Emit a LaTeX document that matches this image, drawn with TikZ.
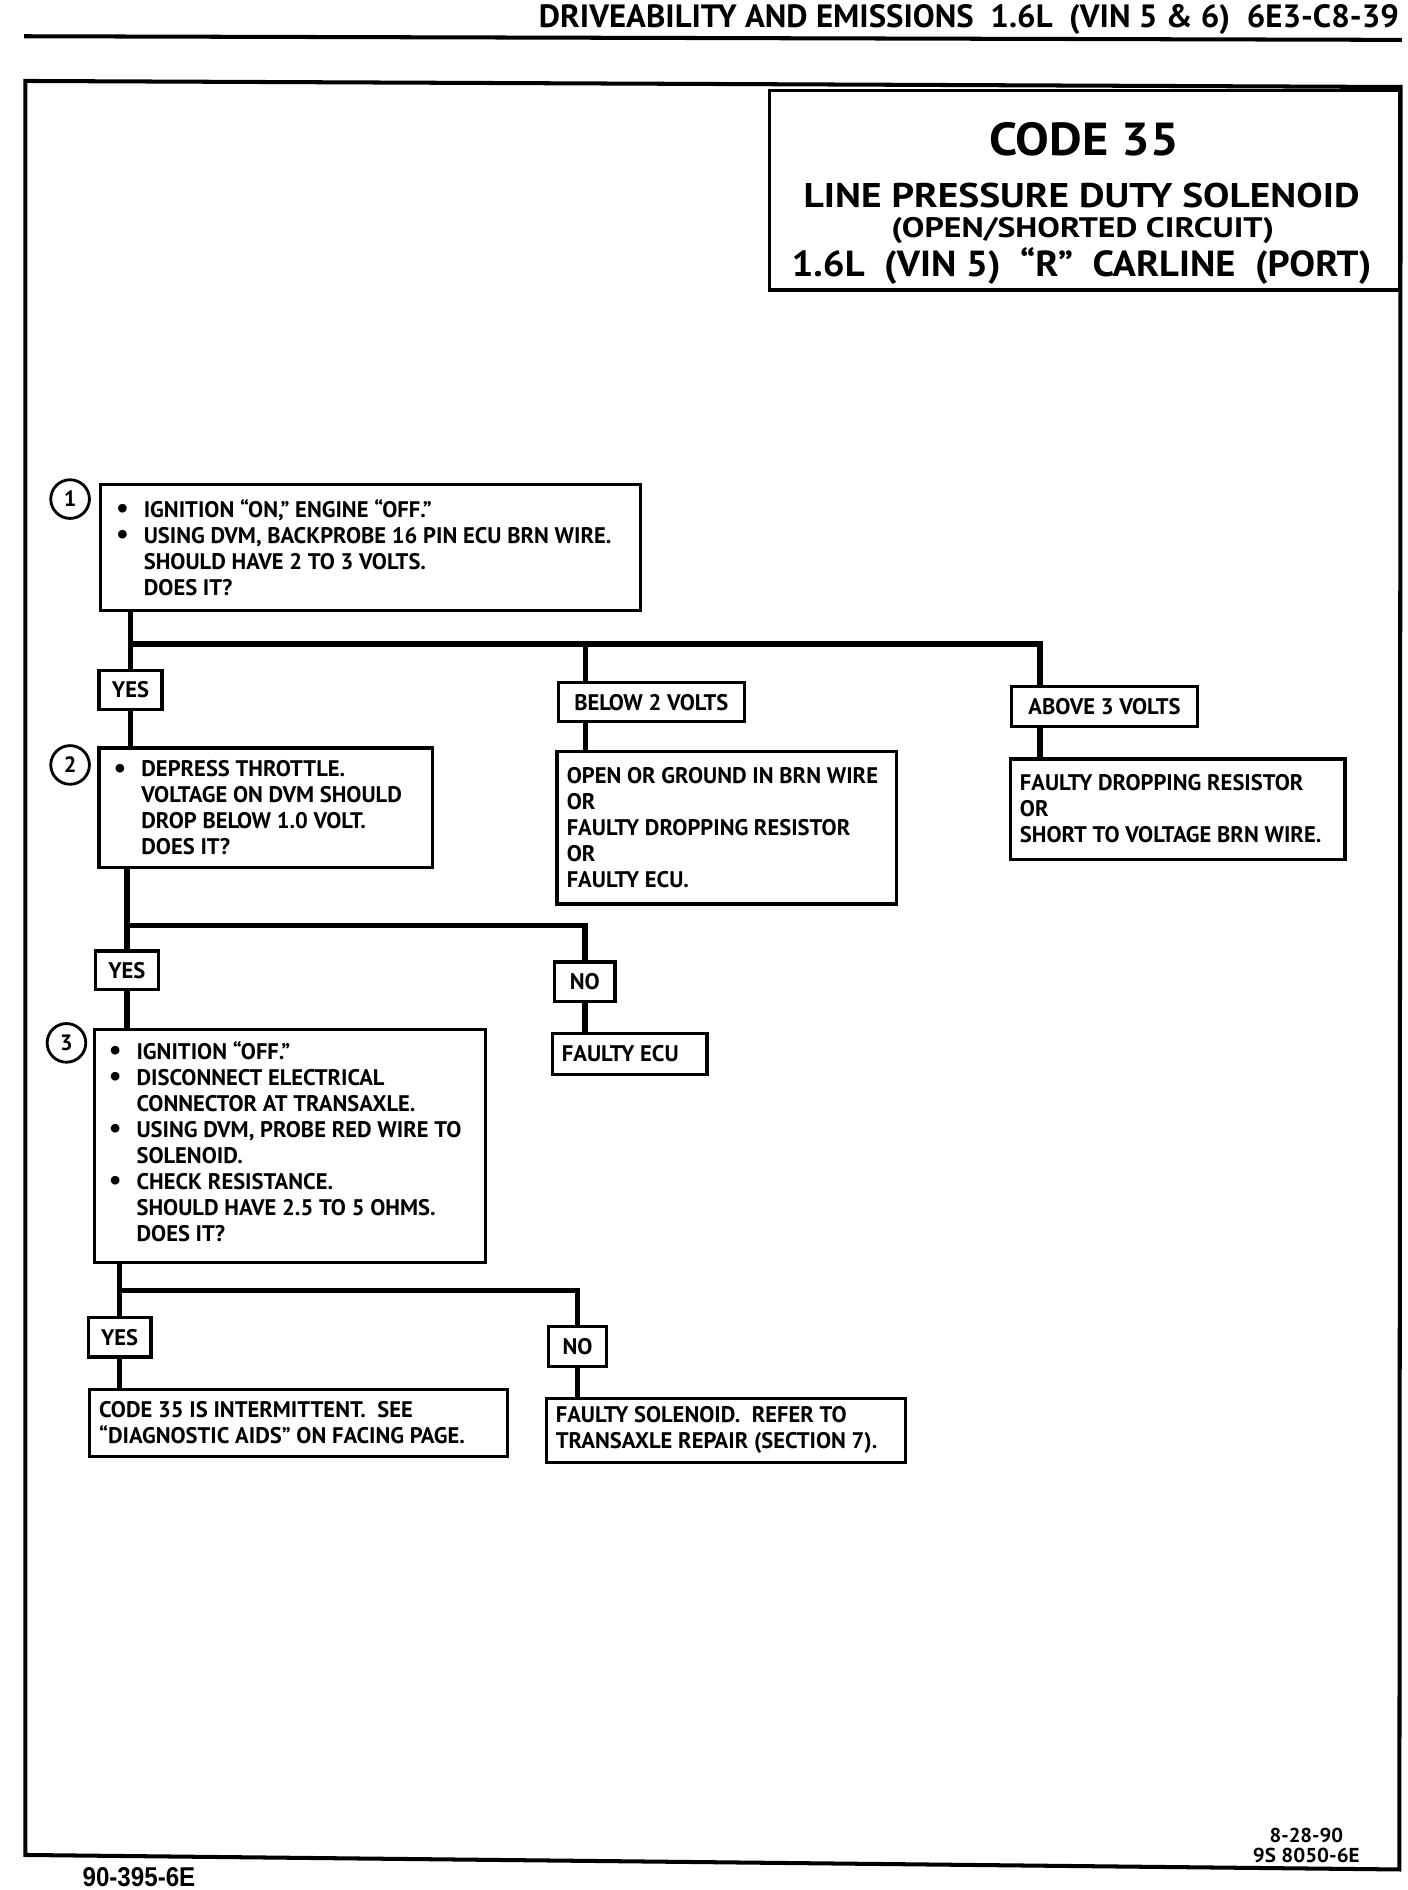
\documentclass[tikz,border=0pt]{standalone}
\usepackage{fontspec}
\setmainfont{PT Sans}
\newfontfamily\arialf{Liberation Sans}
\usepackage{graphicx}
\usetikzlibrary{calc}
\newcommand\fw[2]{\resizebox{#1}{\height}{#2}}
\newcommand\bl{\makebox[13.8pt][l]{\raisebox{-0.3pt}{\scalebox{1.25}{\textbullet}}}}
\newcommand\ind{\hspace*{13.8pt}}
\newcommand\mkbox[5]{%
  \pgfmathsetmacro\bw{(#4-#2)*0.6}%
  \pgfmathsetmacro\bh{(#5-#3)*0.6}%
  \node[boxsty, minimum width=\bw pt, minimum height=\bh pt] (#1) at ({(#2+#4)/2},{(#3+#5)/2}) {};}
\begin{document}
\begin{tikzpicture}[x=0.6pt,y=-0.6pt,
  boxsty/.style={draw, line width=1.6pt, inner sep=0pt},
  txt/.style={font=\bfseries\fontsize{11.2}{12.9}\selectfont, align=left, inner sep=0pt},
  conn/.style={line width=2.6pt},
  num/.style={draw, circle, line width=1.4pt, minimum size=19.2pt, inner sep=0pt, font=\bfseries\fontsize{11}{11}\selectfont}]
\useasboundingbox (0,0) rectangle (1165,1564);
\fill[white] (0,0) rectangle (1165,1564);

% header
\node[anchor=east, inner sep=0pt, font=\bfseries\fontsize{16}{16}\selectfont] (hdr) at (1158,16) {\fw{427pt}{DRIVEABILITY AND EMISSIONS\ \ 1.6L\ \ (VIN 5 \& 6)\ \ 6E3-C8-39}};
\draw[line width=2pt] (20,30) -- (1160,33);

% frame
\draw[line width=2pt, line join=miter] (21,67) -- (1159,72) -- (1158,1547) -- (21,1535) -- cycle;

% title box
\mkbox{tb}{637}{75}{1158}{240}
\node[inner sep=0pt, font=\bfseries\fontsize{23}{24}\selectfont] (t1) at (897,115) {\fw{94pt}{CODE 35}};
\node[inner sep=0pt, font=\bfseries\fontsize{17}{18}\selectfont] (t2) at (895,162) {\fw{276pt}{LINE PRESSURE DUTY SOLENOID}};
\node[inner sep=0pt, font=\bfseries\fontsize{14}{15}\selectfont] (t3) at (896,191) {\fw{190pt}{(OPEN/SHORTED CIRCUIT)}};
\node[inner sep=0pt, font=\bfseries\fontsize{18}{19}\selectfont] (t4) at (895,220) {\fw{288pt}{1.6L\ \ (VIN 5)\ \ “R”\ \ CARLINE\ \ (PORT)}};

% step circles
\node[num] (c1) at (58,413) {1};
\node[num] (c2) at (58,633) {2};
\node[num] (c3) at (55,863) {3};

% boxes
\mkbox{b1}{83}{401}{530}{505}
\node[txt, anchor=west] (b1t) at ([xshift=8.4pt]b1.west) {\bl IGNITION “ON,” ENGINE “OFF.”\\
\bl USING DVM, BACKPROBE 16 PIN ECU BRN WIRE.\\
\ind SHOULD HAVE 2 TO 3 VOLTS.\\
\ind DOES IT?};

\mkbox{yes1}{82}{555}{134}{587}
\node[txt] (yes1t) at (yes1) {YES};

\mkbox{bel}{462}{565}{616}{597}
\node[txt] (belt) at (bel) {BELOW 2 VOLTS};

\mkbox{belr}{461}{622}{742}{748}
\node[txt, anchor=west] (belrt) at ([xshift=5.4pt]belr.west) {OPEN OR GROUND IN BRN WIRE\\ OR\\ FAULTY DROPPING RESISTOR\\ OR\\ FAULTY ECU.};

\mkbox{abv}{837}{568}{991}{601}
\node[txt] (abvt) at (abv) {ABOVE 3 VOLTS};

\mkbox{abvr}{836}{628}{1113}{711}
\node[txt, anchor=west] (abvrt) at ([xshift=5.4pt]abvr.west) {FAULTY DROPPING RESISTOR\\ OR\\ SHORT TO VOLTAGE BRN WIRE.};

\mkbox{b2}{82}{619}{358}{718}
\node[txt, anchor=west] (b2t) at ([xshift=7.8pt]b2.west) {\bl DEPRESS THROTTLE.\\
\ind VOLTAGE ON DVM SHOULD\\
\ind DROP BELOW 1.0 VOLT.\\
\ind DOES IT?};

\mkbox{yes2}{79}{787}{131}{819}
\node[txt] (yes2t) at (yes2) {YES};

\mkbox{no2}{459}{796}{509}{829}
\node[txt] (no2t) at (no2) {NO};

\mkbox{fecu}{457}{855}{585}{889}
\node[txt, anchor=west] (fecut) at ([xshift=5.4pt]fecu.west) {FAULTY ECU};

\mkbox{b3}{78}{852}{402}{1045}
\node[txt, anchor=west] (b3t) at ([xshift=7.8pt,yshift=2.4pt]b3.west) {\bl IGNITION “OFF.”\\
\bl DISCONNECT ELECTRICAL\\
\ind CONNECTOR AT TRANSAXLE.\\
\bl USING DVM, PROBE RED WIRE TO\\
\ind SOLENOID.\\
\bl CHECK RESISTANCE.\\
\ind SHOULD HAVE 2.5 TO 5 OHMS.\\
\ind DOES IT?};

\mkbox{yes3}{73}{1090}{125}{1123}
\node[txt] (yes3t) at (yes3) {YES};

\mkbox{no3}{454}{1098}{502}{1131}
\node[txt] (no3t) at (no3) {NO};

\mkbox{r3y}{74}{1150}{420}{1205}
\node[txt, anchor=west] (r3yt) at ([xshift=5.4pt]r3y.west) {CODE 35 IS INTERMITTENT.\ \ SEE\\ “DIAGNOSTIC AIDS” ON FACING PAGE.};

\mkbox{r3n}{452}{1157}{749}{1210}
\node[txt, anchor=west] (r3nt) at ([xshift=5.4pt]r3n.west) {FAULTY SOLENOID.\ \ REFER TO\\ TRANSAXLE REPAIR (SECTION 7).};

% connectors
\coordinate (s1) at (108,533);
\coordinate (s2) at (105,766);
\coordinate (s3) at (99,1068);
\draw[conn] (yes1.north) -- (yes1.north |- b1.south);
\draw[conn] (s1) -| ([xshift=14.4pt]bel.north west);
\draw[conn] (s1) -| ([xshift=15pt]abv.north west);
\draw[conn] ([xshift=14.4pt]bel.south west) -- ([xshift=15pt]belr.north west);
\draw[conn] ([xshift=15pt]abv.south west) -- ([xshift=15.6pt]abvr.north west);
\draw[conn] (yes1.south) -- (yes1.south |- b2.north);
\draw[conn] (b2.south -| yes2.north) -- (yes2.north);
\draw[conn] (s2) -| (no2.north);
\draw[conn] (no2.south) -- (no2.south |- fecu.north);
\draw[conn] (yes2.south) -- (yes2.south |- b3.north);
\draw[conn] (b3.south -| yes3.north) -- (yes3.north);
\draw[conn] (s3) -| (no3.north);
\draw[conn] (no3.south) -- (no3.south |- r3n.north);
\draw[conn] (yes3.south) -- (yes3.south |- r3y.north);

% footer
\node[inner sep=0pt, font=\bfseries\fontsize{10}{11}\selectfont] (dt) at (1081,1519) {\fw{36.5pt}{8-28-90}};
\node[inner sep=0pt, font=\bfseries\fontsize{10}{11}\selectfont] (dn) at (1081,1535) {\fw{53pt}{9S 8050-6E}};
\node[inner sep=0pt, font=\arialf\bfseries\fontsize{13.5}{14}\selectfont, anchor=west] (ft) at (68,1553) {\fw{56pt}{90-395-6E}};
\end{tikzpicture}
\end{document}
